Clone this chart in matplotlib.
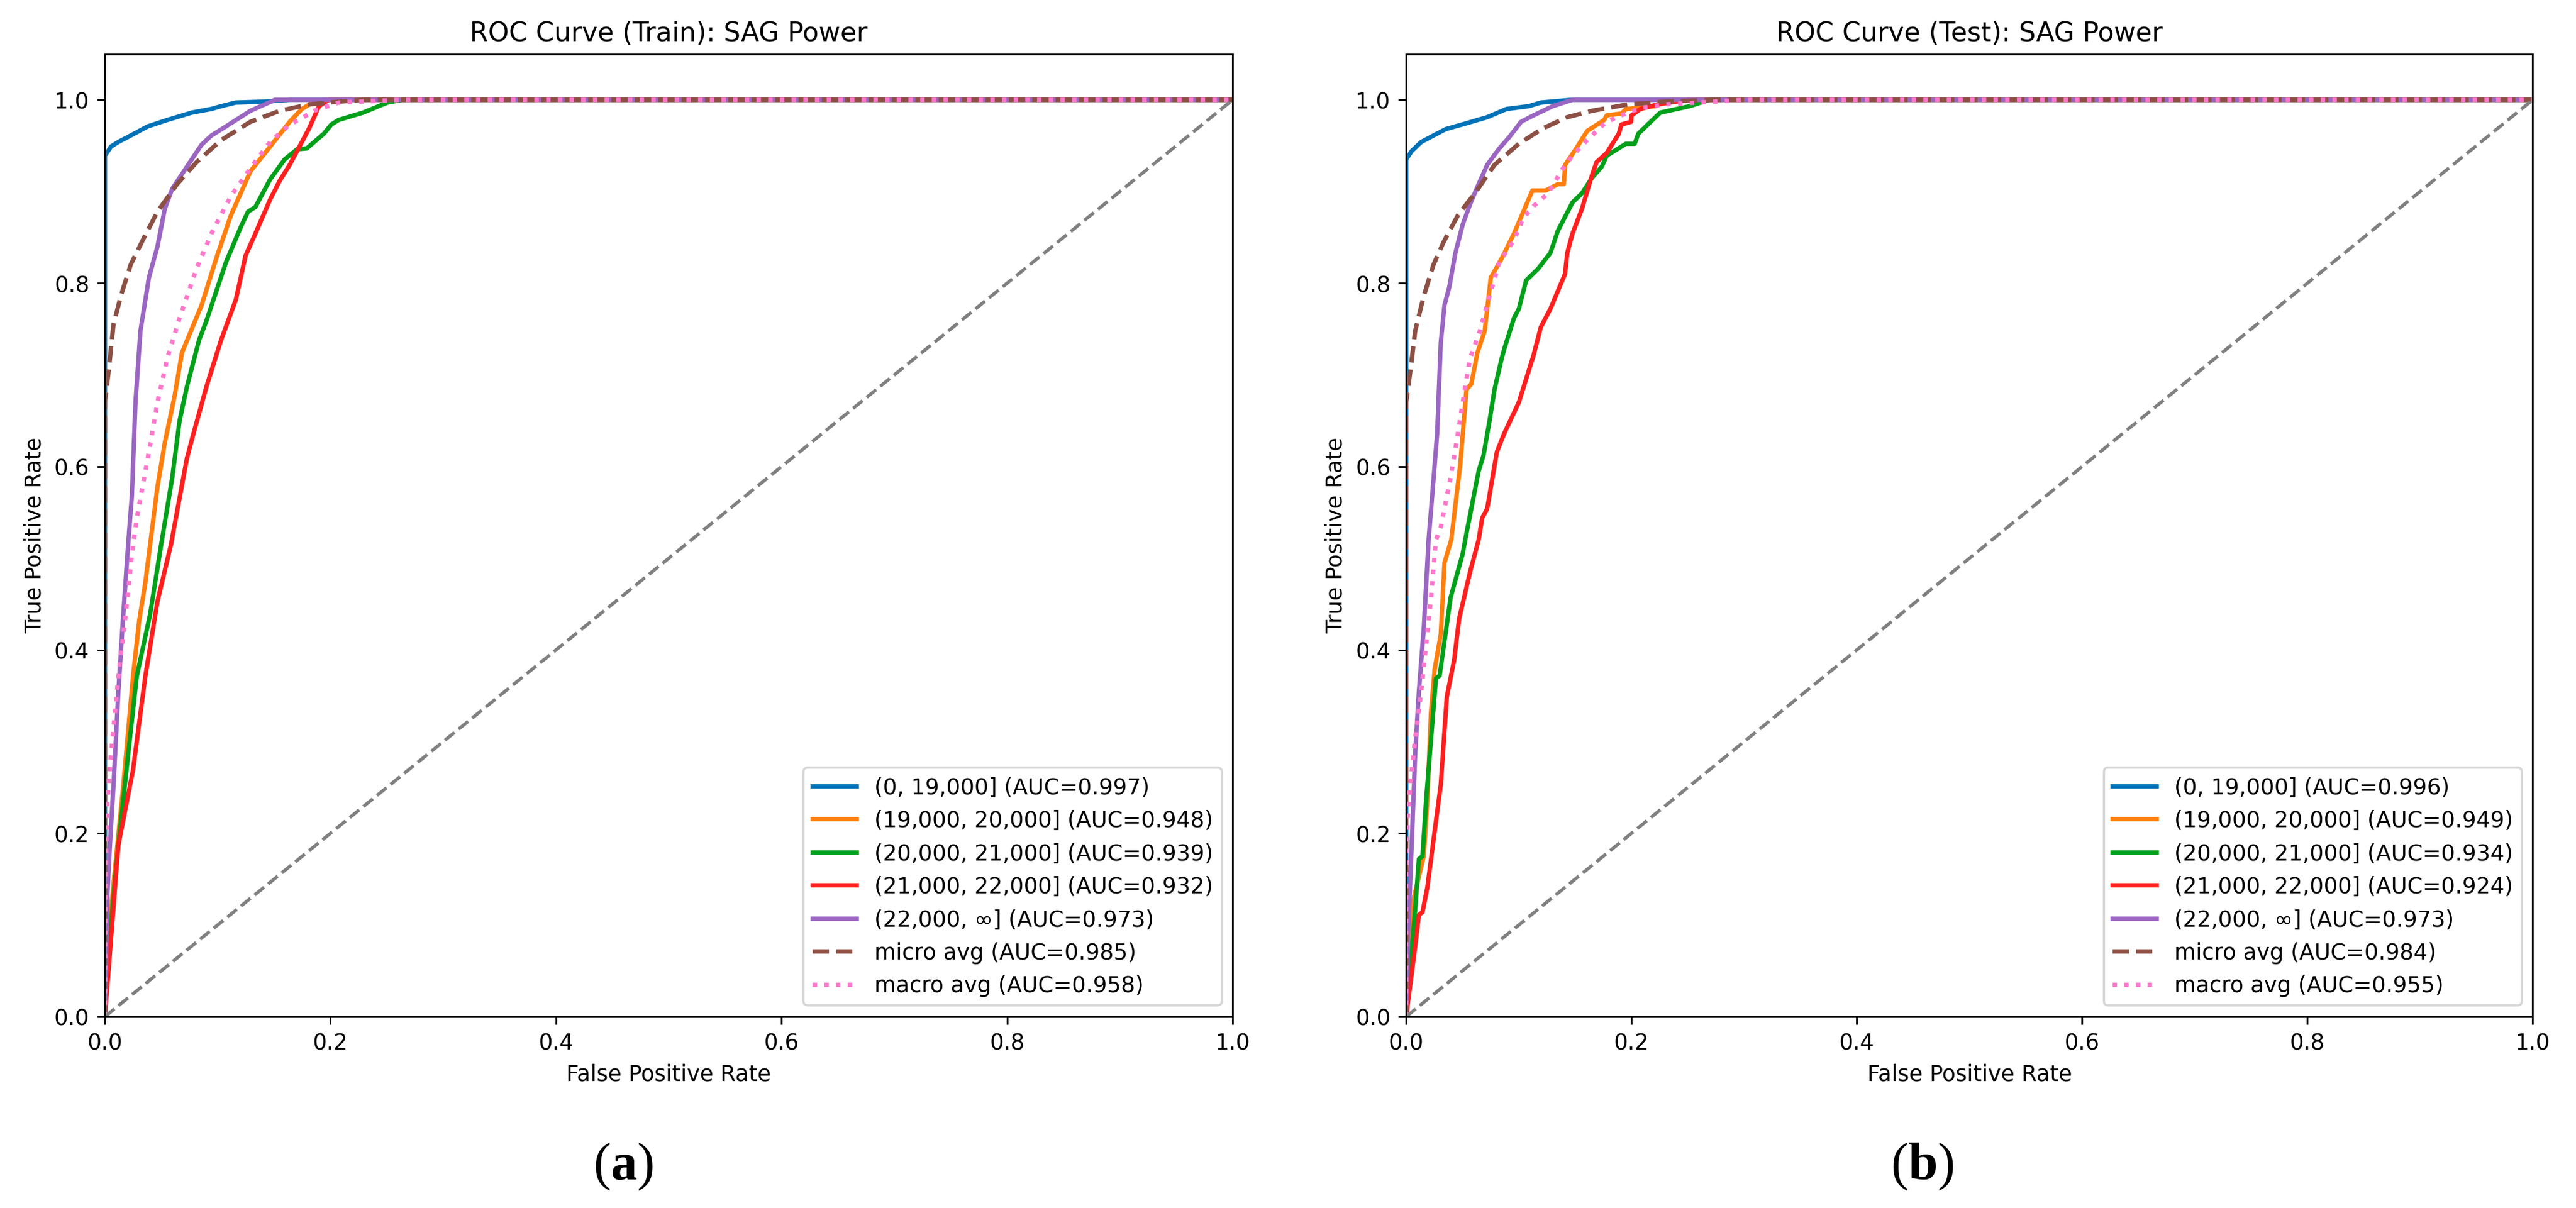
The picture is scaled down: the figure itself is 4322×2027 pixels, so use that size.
import matplotlib
matplotlib.use("Agg")
import matplotlib.pyplot as plt

bins = ["(0, 19,000]", "(19,000, 20,000]", "(20,000, 21,000]",
        "(21,000, 22,000]", "(22,000, \u221e]"]
train_auc = [0.997, 0.948, 0.939, 0.932, 0.973]
test_auc = [0.996, 0.949, 0.934, 0.924, 0.973]
train_micro_auc, train_macro_auc = 0.985, 0.958
test_micro_auc, test_macro_auc = 0.984, 0.955

# ---- Train ROC points ----
tr_fpr_0 = [0, 0, 0.0054, 0.0119, 0.0228, 0.038, 0.0553, 0.077, 0.0944, 0.103, 0.116, 0.142, 0.164, 1]
tr_tpr_0 = [0, 0.939, 0.949, 0.954, 0.961, 0.971, 0.978, 0.986, 0.990, 0.993, 0.997, 0.998, 1.0, 1]

tr_fpr_1 = [0, 0.0054, 0.0108, 0.0163, 0.0249, 0.0304, 0.0358, 0.0401, 0.0466, 0.0531, 0.0618,
            0.0683, 0.0857, 0.0987, 0.1117, 0.129, 0.142, 0.1638, 0.1746, 0.1855, 0.194, 1]
tr_tpr_1 = [0, 0.116, 0.184, 0.252, 0.371, 0.432, 0.473, 0.515, 0.578, 0.626, 0.677,
            0.724, 0.776, 0.827, 0.874, 0.922, 0.942, 0.976, 0.990, 0.998, 1.0, 1]

tr_fpr_2 = [0, 0.0065, 0.0119, 0.0206, 0.0282, 0.0401, 0.0499, 0.0597, 0.0662, 0.0727, 0.0835,
            0.09, 0.1074, 0.1204, 0.1269, 0.1334, 0.1464, 0.1594, 0.1703, 0.179, 0.1941,
            0.2007, 0.2072, 0.2289, 0.2505, 0.2636, 1]
tr_tpr_2 = [0, 0.116, 0.187, 0.286, 0.371, 0.439, 0.515, 0.588, 0.650, 0.687, 0.738,
            0.759, 0.823, 0.861, 0.878, 0.883, 0.913, 0.935, 0.946, 0.947, 0.963,
            0.973, 0.978, 0.986, 0.997, 1.0, 1]

tr_fpr_3 = [0, 0.0119, 0.0249, 0.0358, 0.0466, 0.0586, 0.064, 0.0727, 0.0792, 0.09, 0.103,
            0.1161, 0.1247, 0.1334, 0.1464, 0.1551, 0.1638, 0.1725, 0.1811, 0.1898, 0.1985, 1]
tr_tpr_3 = [0, 0.187, 0.269, 0.371, 0.453, 0.515, 0.551, 0.609, 0.639, 0.687, 0.738,
            0.782, 0.830, 0.854, 0.891, 0.912, 0.929, 0.949, 0.969, 0.993, 1.0, 1]

tr_fpr_4 = [0, 0.0022, 0.0043, 0.0076, 0.0119, 0.0163, 0.0206, 0.0239, 0.0271, 0.0315, 0.039,
            0.0466, 0.0531, 0.0597, 0.0727, 0.0857, 0.0944, 0.1074, 0.129, 0.1508, 1]
tr_tpr_4 = [0, 0.133, 0.184, 0.252, 0.354, 0.439, 0.515, 0.568, 0.670, 0.748, 0.806,
            0.840, 0.881, 0.903, 0.927, 0.951, 0.961, 0.971, 0.988, 1.0, 1]

tr_fpr_micro = [0, 0, 0.0033, 0.0076, 0.0141, 0.0228, 0.0336, 0.0466, 0.064, 0.0813, 0.103,
                0.129, 0.1551, 0.1811, 0.2072, 0.2289, 1]
tr_tpr_micro = [0, 0.670, 0.704, 0.755, 0.786, 0.820, 0.847, 0.878, 0.908, 0.932, 0.956,
                0.976, 0.988, 0.995, 0.998, 1.0, 1]

tr_fpr_macro = [0, 0.0011, 0.0022, 0.0054, 0.0119, 0.0184, 0.0249, 0.0293, 0.038, 0.0466, 0.0553,
                0.0662, 0.0813, 0.0944, 0.1117, 0.1312, 0.1464, 0.1638, 0.1746, 0.1855, 0.2072,
                0.2636, 1]
tr_tpr_macro = [0, 0.184, 0.235, 0.286, 0.371, 0.439, 0.515, 0.551, 0.609, 0.670, 0.718,
                0.762, 0.816, 0.854, 0.895, 0.929, 0.954, 0.973, 0.980, 0.988, 0.997,
                1.0, 1]

# ---- Test ROC points ----
te_fpr_0 = [0, 0, 0.0048, 0.0134, 0.0242, 0.0351, 0.0524, 0.0719, 0.0892, 0.1087, 0.1195, 0.1476, 1]
te_tpr_0 = [0, 0.935, 0.944, 0.954, 0.961, 0.968, 0.974, 0.981, 0.990, 0.993, 0.997, 1.0, 1]

te_fpr_1 = [0, 0.0058, 0.0123, 0.0156, 0.0188, 0.022, 0.0253, 0.0307, 0.034, 0.040, 0.048,
            0.0535, 0.0578, 0.0632, 0.0697, 0.0751, 0.0848, 0.0957, 0.112, 0.1238, 0.1346,
            0.140, 0.1411, 0.152, 0.1606, 0.1758, 0.178, 0.191, 0.1952, 0.221, 0.235, 1]
te_tpr_1 = [0, 0.124, 0.158, 0.175, 0.236, 0.332, 0.379, 0.417, 0.495, 0.520, 0.602,
            0.684, 0.690, 0.724, 0.748, 0.806, 0.827, 0.854, 0.901, 0.901, 0.908,
            0.908, 0.929, 0.949, 0.966, 0.978, 0.983, 0.985, 0.990, 0.993, 1.0, 1]

te_fpr_2 = [0, 0.008, 0.0113, 0.0145, 0.0177, 0.0264, 0.0297, 0.0394, 0.0502, 0.0524, 0.0643,
            0.0686, 0.074, 0.0784, 0.0848, 0.087, 0.0957, 0.100, 0.1065, 0.1173, 0.128,
            0.1346, 0.1476, 0.156, 0.165, 0.1736, 0.178, 0.195, 0.2028, 0.206, 0.217,
            0.2255, 0.2515, 0.269, 1]
te_tpr_2 = [0, 0.117, 0.172, 0.175, 0.236, 0.369, 0.372, 0.457, 0.505, 0.520, 0.595,
            0.612, 0.650, 0.684, 0.718, 0.728, 0.762, 0.772, 0.803, 0.816, 0.833,
            0.857, 0.888, 0.898, 0.915, 0.927, 0.939, 0.952, 0.952, 0.963, 0.976,
            0.986, 0.993, 1.0, 1]

te_fpr_3 = [0, 0.008, 0.0113, 0.0145, 0.0188, 0.0242, 0.0307, 0.0361, 0.0426, 0.047, 0.0567,
            0.0643, 0.0675, 0.0719, 0.0805, 0.087, 0.100, 0.113, 0.1195, 0.128, 0.141,
            0.143, 0.1476, 0.156, 0.165, 0.169, 0.178, 0.1887, 0.191, 0.1996, 0.2,
            0.208, 0.2234, 0.25, 1]
te_tpr_3 = [0, 0.077, 0.111, 0.114, 0.141, 0.192, 0.253, 0.349, 0.389, 0.434, 0.485,
            0.520, 0.544, 0.554, 0.616, 0.636, 0.670, 0.721, 0.752, 0.772, 0.810,
            0.833, 0.854, 0.881, 0.918, 0.932, 0.942, 0.963, 0.973, 0.976, 0.983,
            0.990, 0.995, 1.0, 1]

te_fpr_4 = [0, 0.0015, 0.0048, 0.008, 0.0113, 0.0156, 0.0199, 0.0242, 0.0275, 0.0307, 0.034,
            0.0383, 0.0437, 0.0502, 0.0567, 0.0632, 0.0719, 0.0827, 0.0913, 0.102, 0.113,
            0.130, 0.1476, 1]
te_tpr_4 = [0, 0.083, 0.185, 0.287, 0.355, 0.423, 0.520, 0.585, 0.636, 0.735, 0.776,
            0.796, 0.833, 0.864, 0.886, 0.905, 0.929, 0.947, 0.959, 0.976, 0.983,
            0.993, 1.0, 1]

te_fpr_micro = [0, 0, 0.0037, 0.008, 0.0156, 0.0242, 0.0329, 0.0459, 0.061, 0.0784, 0.100,
                0.1216, 0.143, 0.165, 0.197, 0.23, 0.273, 1]
te_tpr_micro = [0, 0.670, 0.704, 0.748, 0.786, 0.820, 0.844, 0.874, 0.898, 0.929, 0.952,
                0.969, 0.981, 0.988, 0.995, 0.998, 1.0, 1]

te_fpr_macro = [0, 0, 0.0015, 0.0037, 0.008, 0.0134, 0.0177, 0.022, 0.0264, 0.0307, 0.0394,
                0.0459, 0.0524, 0.0567, 0.0654, 0.074, 0.0827, 0.0957, 0.104, 0.113, 0.126,
                0.139, 0.1476, 0.1606, 0.1758, 0.1866, 0.208, 0.23, 0.273, 0.30, 1]
te_tpr_macro = [0, 0.185, 0.219, 0.253, 0.304, 0.355, 0.406, 0.457, 0.520, 0.534, 0.588,
                0.636, 0.687, 0.718, 0.748, 0.786, 0.823, 0.847, 0.871, 0.884, 0.898,
                0.925, 0.939, 0.956, 0.974, 0.981, 0.991, 0.995, 0.998, 1.0, 1]

class_colors = ["#0072b8", "#ff7f0e", "#00a01a", "#ff1f1f", "#9b66c2"]
micro_color = "#8c5044"
macro_color = "#ff77cc"

DPI = 266.4
W, H = 4322, 2027


def draw_panel(ax, fprs, tprs, aucs, micro, macro, title):
    for fpr, tpr, name, auc, color in zip(fprs, tprs, bins, aucs, class_colors):
        ax.plot(fpr, tpr, color=color, lw=2, label=f"{name} (AUC={auc:.3f})")
    ax.plot(micro[0], micro[1], color=micro_color, lw=2, linestyle="--",
            label=f"micro avg (AUC={micro[2]:.3f})")
    ax.plot(macro[0], macro[1], color=macro_color, lw=2, linestyle=":",
            label=f"macro avg (AUC={macro[2]:.3f})")
    ax.plot([0, 1], [0, 1], color="gray", lw=1.5, linestyle="--")
    ax.set_xlim(0, 1)
    ax.set_ylim(0, 1.05)
    ax.set_xlabel("False Positive Rate")
    ax.set_ylabel("True Positive Rate")
    ax.set_title(title)
    ax.legend(loc="lower right")


plt.rcParams["mathtext.fontset"] = "custom"
plt.rcParams["mathtext.rm"] = "Liberation Serif"
plt.rcParams["mathtext.bf"] = "Liberation Serif:bold"

fig = plt.figure(figsize=((W + 0.5) / DPI, (H + 0.5) / DPI), dpi=DPI)
ax1 = fig.add_axes([176 / W, 1 - 1706 / H, 1892 / W, 1615 / H])
ax2 = fig.add_axes([2359 / W, 1 - 1706 / H, 1890 / W, 1615 / H])

draw_panel(ax1,
           [tr_fpr_0, tr_fpr_1, tr_fpr_2, tr_fpr_3, tr_fpr_4],
           [tr_tpr_0, tr_tpr_1, tr_tpr_2, tr_tpr_3, tr_tpr_4],
           train_auc,
           (tr_fpr_micro, tr_tpr_micro, train_micro_auc),
           (tr_fpr_macro, tr_tpr_macro, train_macro_auc),
           "ROC Curve (Train): SAG Power")
draw_panel(ax2,
           [te_fpr_0, te_fpr_1, te_fpr_2, te_fpr_3, te_fpr_4],
           [te_tpr_0, te_tpr_1, te_tpr_2, te_tpr_3, te_tpr_4],
           test_auc,
           (te_fpr_micro, te_tpr_micro, test_micro_auc),
           (te_fpr_macro, te_tpr_macro, test_macro_auc),
           "ROC Curve (Test): SAG Power")

# sub-figure captions
fig.text(1046 / W, 1 - 1957 / H, r"($\mathbf{a}$)", family="Liberation Serif",
         fontsize=24, ha="center", va="center")
fig.text(3225 / W, 1 - 1957 / H, r"($\mathbf{b}$)", family="Liberation Serif",
         fontsize=24, ha="center", va="center")

fig.savefig("out.png", dpi=DPI)
